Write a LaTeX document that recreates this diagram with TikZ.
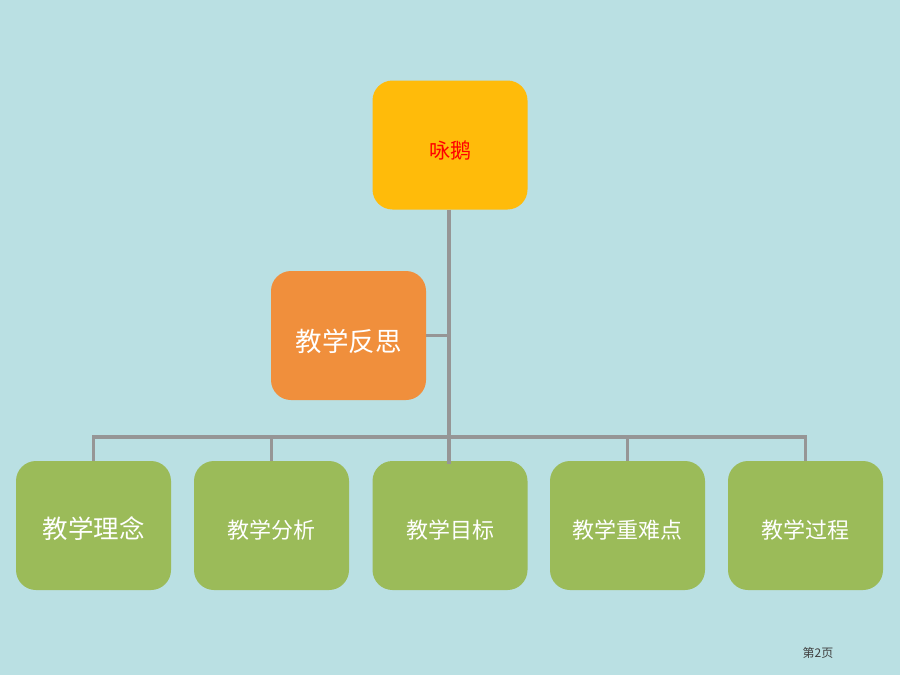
\documentclass[tikz,border=0pt]{standalone}
\usepackage{fontspec}
\usepackage{xcolor}
\usepackage{tikz}
\usetikzlibrary{positioning}
\newfontfamily\cjk{Noto Sans CJK SC}
\definecolor{bgblue}{RGB}{186,224,227}
\definecolor{topgold}{RGB}{255,187,10}
\definecolor{revorange}{RGB}{240,143,60}
\definecolor{partgreen}{RGB}{155,187,89}
\definecolor{linegray}{RGB}{150,150,150}
\tikzset{
    boxnode/.style = {rectangle, rounded corners=20pt, inner sep=0pt, align=center,
        text height=26pt, text depth=0pt,
        minimum width=155pt, minimum height=129pt, font=\cjk\fontsize{22}{26}\selectfont, text=white},
    topnode/.style = {boxnode, fill=topgold, text=red, font=\cjk\fontsize{21}{25}\selectfont},
    revnode/.style = {boxnode, fill=revorange, text height=31pt, font=\cjk\fontsize{26.5}{30}\selectfont},
    partnode/.style = {boxnode, fill=partgreen},
}

\begin{document}
\begin{tikzpicture}[
	x=1pt, y=-1pt
]
\tikzset{
    edget/.style = {-,line width=4pt,linegray},
    edgeb/.style = {-,line width=3.5pt,linegray},
    edgef/.style = {-,line width=2.5pt,linegray}
}
\fill[bgblue] (0,0) rectangle (900,675);
\useasboundingbox (0,0) rectangle (900,675);
%
\node[topnode] at (450,145) (top) {咏鹅};
\node[revnode] at (348.5,335.5) (rev) {教学反思};
\node[partnode, font=\cjk\fontsize{25.5}{30}\selectfont] at (93.5,525.5) (idea) {教学理念};
\node[partnode] at (271.5,525.5) (ana) {教学分析};
\node[partnode] at (450,525.5) (goal) {教学目标};
\node[partnode] at (627.5,525.5) (key) {教学重难点};
\node[partnode] at (805.5,525.5) (proc) {教学过程};
\node[text=black!75, font=\cjk\fontsize{12}{14}\selectfont] at (818,653) (page) {第2页};
%
\coordinate (bus) at (448.5,437);
\draw[edget] (top.south -| bus) -- ([yshift=-3pt]goal.north -| bus);
\draw[edgef] (rev.east) -- (rev.east -| bus);
%
\draw[edgeb] (idea.north) |- (bus) -| (proc.north);
\draw[edgeb] (ana.north) -- (ana.north |- bus);
\draw[edgeb] (key.north) -- (key.north |- bus);
\end{tikzpicture}
\end{document}
